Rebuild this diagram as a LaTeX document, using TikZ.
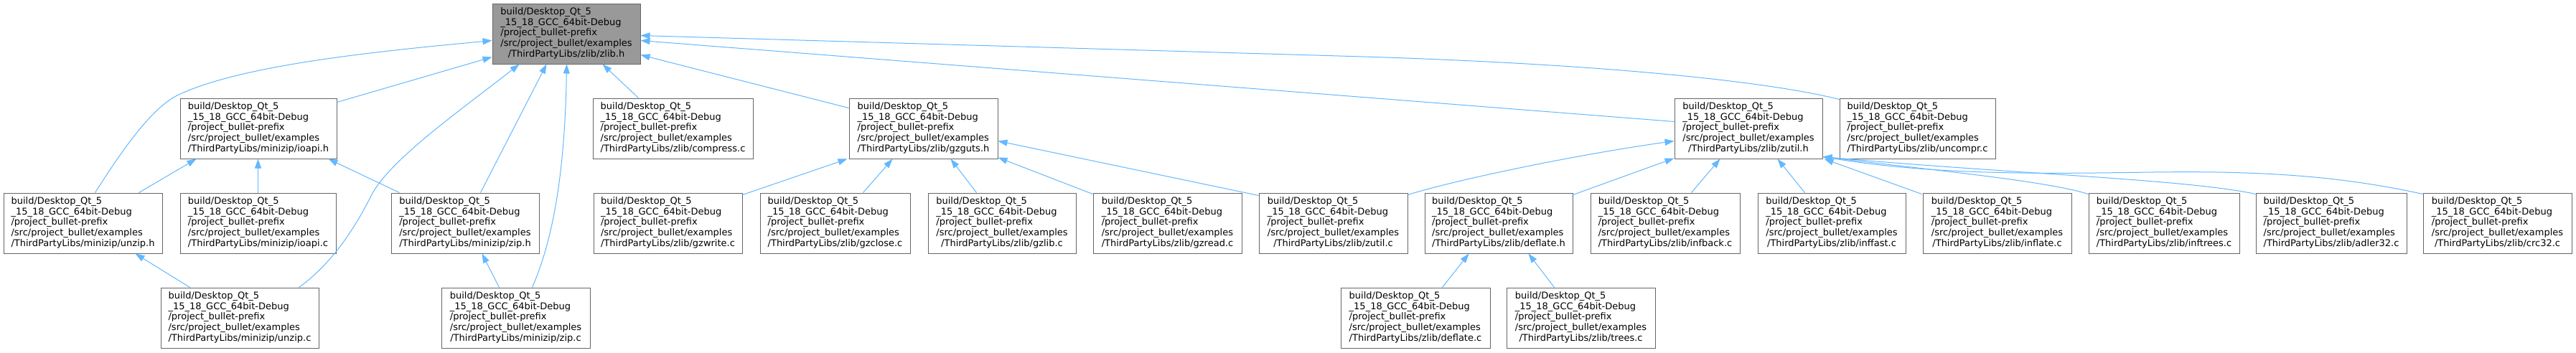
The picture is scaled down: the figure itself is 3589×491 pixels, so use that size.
\documentclass[tikz,border=0pt]{standalone}
\usepackage{fontspec}
\setmainfont{DejaVu Sans}
\usetikzlibrary{arrows.meta,calc}
\definecolor{edgeblue}{HTML}{63B8FF}
\definecolor{boxborder}{HTML}{666666}
\definecolor{hifill}{HTML}{999999}
\newcommand\flabel[1]{\begin{tabular}{@{}l@{}}build/Desktop\_Qt\_5\\\_15\_18\_GCC\_64bit-Debug\\/project\_bullet-prefix\\/src/project\_bullet/examples\\\multicolumn{1}{@{}c@{}}{#1}\end{tabular}}
\tikzset{
  filebox/.style={draw=boxborder, line width=1pt, fill=white, minimum height=84pt,
    inner xsep=3pt, inner ysep=2pt, font=\fontsize{13}{14.7}\selectfont, anchor=center},
  inc/.style={draw=edgeblue, line width=1pt, -{Triangle[length=13pt,width=9pt]}},
}
\begin{document}
\begin{tikzpicture}[x=1pt,y=-1pt]
\fill[white] (0,0) rectangle (3589,491);
\useasboundingbox (0,0) rectangle (3589,491);
% row 0
\node[filebox, fill=hifill, minimum width=206pt] (zlib) at (789,47) {\flabel{/ThirdPartyLibs/zlib/zlib.h}};
% row 1
\node[filebox, minimum width=218pt] (ioapih) at (360,179) {\flabel{/ThirdPartyLibs/minizip/ioapi.h}};
\node[filebox, minimum width=223pt] (compress) at (937.5,179) {\flabel{/ThirdPartyLibs/zlib/compress.c}};
\node[filebox, minimum width=207pt] (gzguts) at (1286.5,179) {\flabel{/ThirdPartyLibs/zlib/gzguts.h}};
\node[filebox, minimum width=206pt] (zutilh) at (2436,179) {\flabel{/ThirdPartyLibs/zlib/zutil.h}};
\node[filebox, minimum width=217pt] (uncompr) at (2671.5,179) {\flabel{/ThirdPartyLibs/zlib/uncompr.c}};
% row 2
\node[filebox, minimum width=221pt] (unziph) at (115.5,311) {\flabel{/ThirdPartyLibs/minizip/unzip.h}};
\node[filebox, minimum width=217pt] (ioapic) at (359.5,311) {\flabel{/ThirdPartyLibs/minizip/ioapi.c}};
\node[filebox, minimum width=206pt] (ziph) at (648,311) {\flabel{/ThirdPartyLibs/minizip/zip.h}};
\node[filebox, minimum width=207pt] (gzwrite) at (930.5,311) {\flabel{/ThirdPartyLibs/zlib/gzwrite.c}};
\node[filebox, minimum width=209pt] (gzclose) at (1163.5,311) {\flabel{/ThirdPartyLibs/zlib/gzclose.c}};
\node[filebox, minimum width=206pt] (gzlib) at (1396,311) {\flabel{/ThirdPartyLibs/zlib/gzlib.c}};
\node[filebox, minimum width=207pt] (gzread) at (1626.5,311) {\flabel{/ThirdPartyLibs/zlib/gzread.c}};
\node[filebox, minimum width=207pt] (zutilc) at (1857.5,311) {\flabel{/ThirdPartyLibs/zlib/zutil.c}};
\node[filebox, minimum width=206pt] (deflateh) at (2088,311) {\flabel{/ThirdPartyLibs/zlib/deflate.h}};
\node[filebox, minimum width=208pt] (infback) at (2320,311) {\flabel{/ThirdPartyLibs/zlib/infback.c}};
\node[filebox, minimum width=206pt] (inffast) at (2552,311) {\flabel{/ThirdPartyLibs/zlib/inffast.c}};
\node[filebox, minimum width=207pt] (inflate) at (2782.5,311) {\flabel{/ThirdPartyLibs/zlib/inflate.c}};
\node[filebox, minimum width=210pt] (inftrees) at (3015,311) {\flabel{/ThirdPartyLibs/zlib/inftrees.c}};
\node[filebox, minimum width=210pt] (adler) at (3248,311) {\flabel{/ThirdPartyLibs/zlib/adler32.c}};
\node[filebox, minimum width=207pt] (crc) at (3479.5,311) {\flabel{/ThirdPartyLibs/zlib/crc32.c}};
% row 3
\node[filebox, minimum width=220pt] (unzipc) at (334,443) {\flabel{/ThirdPartyLibs/minizip/unzip.c}};
\node[filebox, minimum width=207pt] (zipc) at (718.5,443) {\flabel{/ThirdPartyLibs/minizip/zip.c}};
\node[filebox, minimum width=208pt] (deflatec) at (1972,443) {\flabel{/ThirdPartyLibs/zlib/deflate.c}};
\node[filebox, minimum width=207pt] (trees) at (2202.5,443) {\flabel{/ThirdPartyLibs/zlib/trees.c}};
% edges to zlib.h
\draw[inc] ($(unziph.north west)+(128,0)$) .. controls (159.5,226.5) and (206.5,152.8) .. (247,133)
  .. controls (337,89) and (543,70) .. ($(zlib.north west)+(0,52)$);
\draw[inc] ($(ioapih.north east)+(0,6)$) -- ($(zlib.north west)+(0,75)$);
\draw[inc] ($(unzipc.north west)+(193,0)$) .. controls (462,368) and (494.5,318) .. (517,273)
  .. controls (542,223) and (644,152) .. ($(zlib.south west)+(38,0)$);
\draw[inc] ($(ziph.north west)+(125,0)$) -- ($(zlib.south west)+(76,0)$);
\draw[inc] ($(zipc.north west)+(127,0)$) .. controls (768,340) and (787,250) .. ($(zlib.south west)+(104,0)$);
\draw[inc] ($(compress.north west)+(64,0)$) -- ($(zlib.south west)+(154,0)$);
\draw[inc] ($(gzguts.north west)+(0,14)$) -- ($(zlib.north east)+(0,72)$);
\draw[inc] ($(zutilh.north west)+(0,33)$) -- ($(zlib.north east)+(0,52)$);
\draw[inc] ($(uncompr.north west)+(0,2)$) .. controls (2470,115) and (2250,90) .. (1900,79)
  -- ($(zlib.north east)+(0,45)$);
% edges to ioapi.h
\draw[inc] ($(unziph.north west)+(189,0)$) -- ($(ioapih.south west)+(23,0)$);
\draw[inc] (ioapic.north) -- (ioapic.north |- ioapih.south);
\draw[inc] ($(ziph.north west)+(12,0)$) -- ($(ioapih.south east)+(-12,0)$);
% minizip lower
\draw[inc] ($(unzipc.north west)+(41,0)$) -- ($(unziph.south west)+(184,0)$);
\draw[inc] ($(zipc.north west)+(81,0)$) -- ($(ziph.south west)+(127,0)$);
% edges to gzguts.h
\draw[inc] ($(gzwrite.north east)+(0,3)$) -- ($(gzguts.south west)+(-2,0)$);
\draw[inc] ($(gzclose.north west)+(144,0)$) -- ($(gzguts.south west)+(61,0)$);
\draw[inc] ($(gzlib.north west)+(68,0)$) -- ($(gzguts.south west)+(142,0)$);
\draw[inc] ($(gzread.north west)+(0,2)$) -- ($(gzguts.south east)+(0,-2)$);
\draw[inc] ($(zutilc.north west)+(0,4)$) -- ($(gzguts.north east)+(0,60)$);
% edges to zutil.h
\draw[inc] ($(zutilc.north east)+(0,3)$) .. controls (2030,250) and (2200,215) .. ($(zutilh.north west)+(0,60)$);
\draw[inc] ($(deflateh.north east)+(0,3)$) -- ($(zutilh.south west)+(0,-1)$);
\draw[inc] ($(infback.north west)+(141,0)$) -- ($(zutilh.south west)+(64,0)$);
\draw[inc] ($(inffast.north west)+(66,0)$) -- ($(zutilh.south west)+(144,0)$);
\draw[inc] ($(inflate.north west)+(-1,2)$) -- ($(zutilh.south east)+(2,0)$);
\draw[inc] ($(inftrees.north west)+(0,2)$) .. controls (2850,252) and (2700,238) .. ($(zutilh.south east)+(0,-3)$);
\draw[inc] ($(adler.north west)+(0,2)$) .. controls (3050,250) and (2800,242) .. ($(zutilh.south east)+(0,-3)$);
\draw[inc] ($(crc.north west)+(0,2)$) .. controls (3260,245) and (3150,238) .. (3000,240)
  .. controls (2850,242) and (2700,245) .. ($(zutilh.south east)+(0,-3)$);
% edges to deflate.h
\draw[inc] ($(deflatec.north west)+(142,0)$) -- ($(deflateh.south west)+(62,0)$);
\draw[inc] ($(trees.north west)+(67,0)$) -- ($(deflateh.south west)+(145,0)$);
\end{tikzpicture}
\end{document}
